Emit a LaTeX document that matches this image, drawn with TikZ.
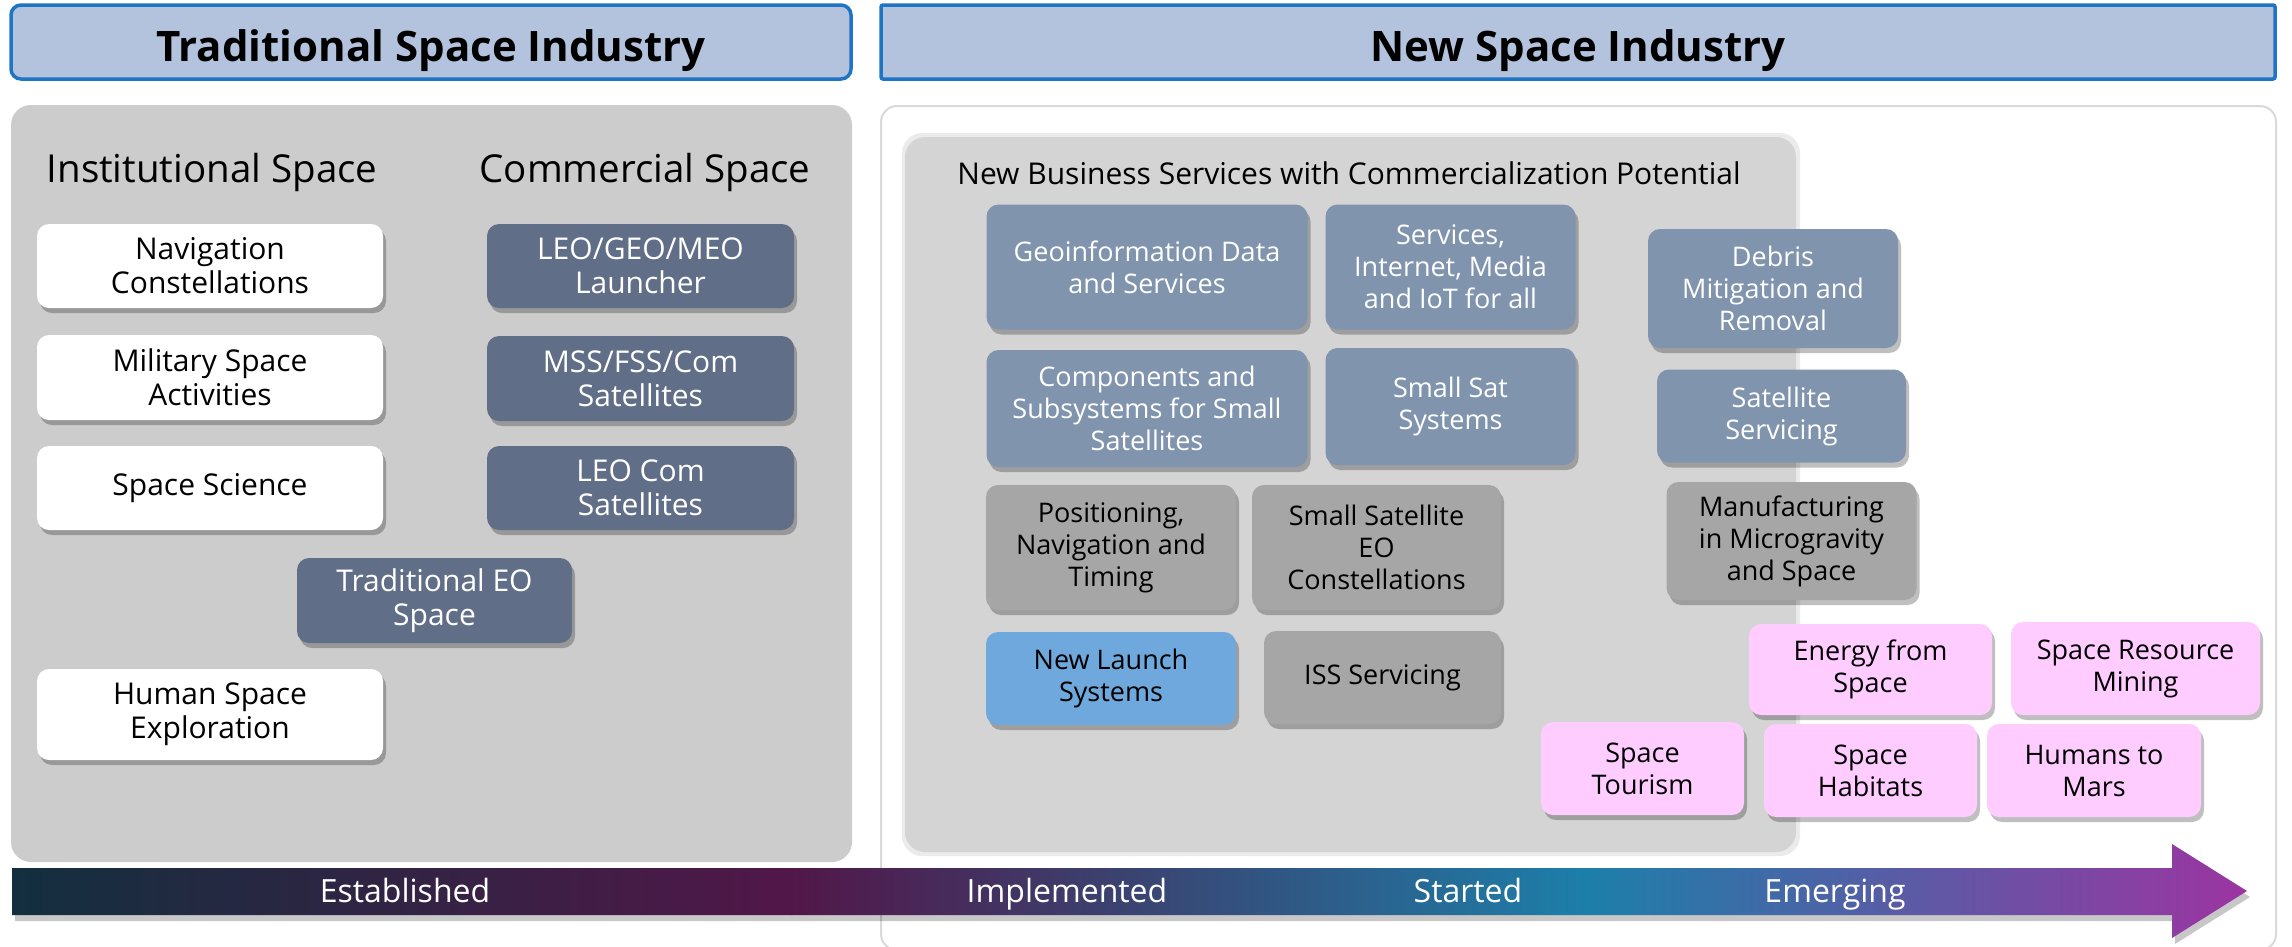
\documentclass[tikz,border=0pt]{standalone}
\usepackage{fontspec}
\setmainfont{Open Sans}
\usetikzlibrary{shadows}
\definecolor{titlefill}{HTML}{B4C3DD}
\definecolor{titleline}{HTML}{1F74C4}
\definecolor{leftpanel}{HTML}{CCCCCC}
\definecolor{innerpanel}{HTML}{D4D4D4}
\definecolor{panelline}{HTML}{D9D9D9}
\definecolor{commfill}{HTML}{616E87}
\definecolor{nbfill}{HTML}{8094AE}
\definecolor{greyfill}{HTML}{A6A6A6}
\definecolor{bluefill}{HTML}{6FA8DC}
\definecolor{pinkfill}{HTML}{FFCCFF}
\definecolor{ga}{HTML}{132F3F}
\definecolor{gb}{HTML}{511748}
\definecolor{gc}{HTML}{1C7FA9}
\definecolor{gd}{HTML}{9D34A1}
\tikzset{
  basebox/.style={rounded corners=12pt, align=center, inner sep=0pt,
    drop shadow={shadow xshift=3pt, shadow yshift=-5pt, opacity=0.25, fill=black}},
  whitebox/.style={basebox, fill=white, text=black, font=\fontsize{30}{34}\selectfont},
  commbox/.style={basebox, fill=commfill, text=white, font=\fontsize{30}{34}\selectfont},
  nbbox/.style={basebox, fill=nbfill, text=white, font=\fontsize{27}{32}\selectfont},
  greybox/.style={basebox, fill=greyfill, text=black, font=\fontsize{27}{32}\selectfont},
  bluebox/.style={basebox, fill=bluefill, text=black, font=\fontsize{27}{32}\selectfont},
  pinkbox/.style={basebox, fill=pinkfill, text=black, font=\fontsize{27}{32}\selectfont},
  titlebox/.style={fill=titlefill, draw=titleline, line width=3.5pt, inner sep=0pt,
    font=\fontsize{42}{48}\selectfont\bfseries, text height=43pt, text depth=5pt},
  headtext/.style={font=\fontsize{38.5}{44}\selectfont, text=black},
  arrowtext/.style={font=\fontsize{32}{36}\selectfont, text=white, text height=23pt, text depth=7pt, inner sep=0pt},
}
\begin{document}
\begin{tikzpicture}[x=1pt,y=-1pt]
\useasboundingbox (0,0) rectangle (2292,946);
\fill[white] (0,0) rectangle (2292,946);

% title boxes
\node[titlebox, rounded corners=10pt, minimum width=840pt, minimum height=74pt] (tleft) at (431,42) {Traditional Space Industry};
\node[titlebox, rounded corners=2pt, minimum width=1394pt, minimum height=74pt] (tright) at (1578,42) {New Space Industry};

% panels
\fill[leftpanel, rounded corners=20pt] (11,105) rectangle (852,862);
\draw[panelline, fill=white, line width=2pt, rounded corners=16pt] (881,106) rectangle (2276,950);
\fill[black, opacity=0.08, rounded corners=20pt] (902,133) rectangle (1800,856);
\fill[innerpanel, rounded corners=20pt] (905,137) rectangle (1796,852);

% headings
\node[headtext] (hinst) at (212,172) {Institutional Space};
\node[headtext] (hcomm) at (645,172) {Commercial Space};
\node[font=\fontsize{30}{34}\selectfont] (hnew) at (1349,173) {New Business Services with Commercialization Potential};

% left boxes
\node[whitebox, minimum width=346pt, minimum height=84pt] (nav) at (210,266) {Navigation\\Constellations};
\node[whitebox, minimum width=346pt, minimum height=85pt] (mil) at (210,377.5) {Military Space\\Activities};
\node[whitebox, minimum width=346pt, minimum height=84pt] (sci) at (210,488) {Space Science};
\node[whitebox, minimum width=346pt, minimum height=91pt] (hum) at (210,714.5) {Human Space\\Exploration};
\node[commbox, minimum width=307pt, minimum height=84pt] (launch) at (640.5,266) {LEO/GEO/MEO\\Launcher};
\node[commbox, minimum width=307pt, minimum height=85pt] (mss) at (640.5,378.5) {MSS/FSS/Com\\Satellites};
\node[commbox, minimum width=307pt, minimum height=84pt] (leo) at (640.5,488) {LEO Com\\Satellites};
\node[commbox, minimum width=275pt, minimum height=85pt] (treo) at (434.5,600.5) {Traditional EO\\Space};

% new space boxes
\node[nbbox, minimum width=321pt, minimum height=125pt] (geo) at (1147,267) {Geoinformation Data\\and Services};
\node[nbbox, minimum width=250pt, minimum height=125pt] (serv) at (1450.5,267) {Services,\\Internet, Media\\and IoT for all};
\node[nbbox, minimum width=321pt, minimum height=117pt] (comp) at (1147,408.5) {Components and\\Subsystems for Small\\Satellites};
\node[nbbox, minimum width=250pt, minimum height=117pt] (ssat) at (1450.5,406.5) {Small Sat\\Systems};
\node[nbbox, minimum width=250pt, minimum height=119pt] (debris) at (1773,288.5) {Debris\\Mitigation and\\Removal};
\node[nbbox, minimum width=249pt, minimum height=93pt] (satserv) at (1781.5,416) {Satellite\\Servicing};

\node[greybox, minimum width=250pt, minimum height=125pt] (pnt) at (1111,547.5) {Positioning,\\Navigation and\\Timing};
\node[greybox, minimum width=249pt, minimum height=125pt] (sseo) at (1376.5,547.5) {Small Satellite\\EO\\Constellations};
\node[greybox, minimum width=250pt, minimum height=118pt] (manuf) at (1791.5,541) {Manufacturing\\in Microgravity\\and Space};
\node[bluebox, minimum width=250pt, minimum height=93pt] (nls) at (1111,678.5) {New Launch\\Systems};
\node[greybox, minimum width=237pt, minimum height=93pt] (iss) at (1382.5,677.5) {ISS Servicing};

\node[pinkbox, minimum width=243pt, minimum height=91pt] (energy) at (1870.5,669.5) {Energy from\\Space};
\node[pinkbox, minimum width=249pt, minimum height=93pt] (mining) at (2135.5,668.5) {Space Resource\\Mining};
\node[pinkbox, minimum width=203pt, minimum height=93pt] (tourism) at (1642.5,768.5) {Space\\Tourism};
\node[pinkbox, minimum width=213pt, minimum height=93pt] (habitat) at (1870.5,770.5) {Space\\Habitats};
\node[pinkbox, minimum width=214pt, minimum height=93pt] (mars) at (2094,770.5) {Humans to\\Mars};

% timeline arrow
\fill[black, opacity=0.22] (15,874) -- (2175,874) -- (2175,850) -- (2250,897) -- (2175,944) -- (2175,921) -- (15,921) -- cycle;
\begin{scope}
\clip (12,868) -- (2172,868) -- (2172,844) -- (2247,891) -- (2172,938) -- (2172,915) -- (12,915) -- cycle;
\shade[left color=ga, right color=gb] (10,840) rectangle (791,942);
\shade[left color=gb, right color=gc] (790,840) rectangle (1587,942);
\shade[left color=gc, right color=gd] (1586,840) rectangle (2250,942);
\end{scope}
\node[arrowtext] (est) at (405,894) {Established};
\node[arrowtext] (impl) at (1067,894) {Implemented};
\node[arrowtext] (start) at (1468,894) {Started};
\node[arrowtext] (emerg) at (1835,894) {Emerging};
\end{tikzpicture}
\end{document}
